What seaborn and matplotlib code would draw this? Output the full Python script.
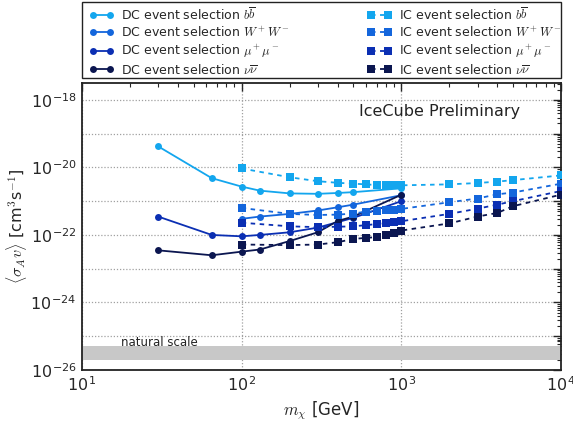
import numpy as np
import pandas as pd
import matplotlib
matplotlib.use("Agg")
import matplotlib.pyplot as plt
import matplotlib.ticker as mticker
from matplotlib.patches import Rectangle
import seaborn as sns

# ---- data ----
dc_mass = [30, 65, 100, 130, 200, 300, 400, 500, 1000]
dc_mass_ww = [100, 130, 200, 300, 400, 500, 1000]
dc_bb = [4.2e-20, 4.8e-21, 2.7e-21, 2.05e-21, 1.7e-21, 1.65e-21, 1.75e-21, 1.85e-21, 2.4e-21]
dc_ww = [3.0e-22, 3.5e-22, 4.2e-22, 5.3e-22, 6.6e-22, 7.9e-22, 1.5e-21]
dc_mumu = [3.5e-22, 1.0e-22, 9.1e-23, 1.0e-22, 1.2e-22, 1.65e-22, 2.4e-22, 3.2e-22, 1.0e-21]
dc_nunu = [3.5e-23, 2.5e-23, 3.2e-23, 3.7e-23, 6.6e-23, 1.2e-22, 2.6e-22, 3.5e-22, 1.55e-21]

ic_mass = [100, 200, 300, 400, 500, 600, 700, 800, 900, 1000, 2000, 3000, 4000, 5000, 10000]
ic_bb = [9.3e-21, 5.1e-21, 3.9e-21, 3.5e-21, 3.3e-21, 3.15e-21, 3.0e-21, 2.95e-21, 2.95e-21, 2.95e-21,
         3.15e-21, 3.45e-21, 3.8e-21, 4.2e-21, 5.8e-21]
ic_ww = [6.3e-22, 4.2e-22, 3.9e-22, 4.0e-22, 4.3e-22, 4.9e-22, 5.0e-22, 5.4e-22, 5.6e-22, 5.9e-22,
         9.3e-22, 1.2e-21, 1.6e-21, 1.8e-21, 3.3e-21]
ic_mumu = [2.3e-22, 1.8e-22, 1.7e-22, 1.75e-22, 1.8e-22, 1.95e-22, 2.1e-22, 2.3e-22, 2.45e-22, 2.55e-22,
           4.2e-22, 6.0e-22, 7.9e-22, 1.0e-21, 2.0e-21]
ic_nunu = [5.2e-23, 5.0e-23, 5.2e-23, 6.1e-23, 7.6e-23, 8.2e-23, 8.6e-23, 9.9e-23, 1.15e-22, 1.35e-22,
           2.2e-22, 3.5e-22, 4.5e-22, 7.1e-22, 1.56e-21]

channels = [r"$b\overline{b}$", r"$W^+W^-$", r"$\mu^+\mu^-$", r"$\nu\overline{\nu}$"]
colors = ["#13a6ee", "#1466dc", "#0b2fb3", "#0b1650"]

natural_lo, natural_hi = 1.95e-26, 5.0e-26

# ---- style ----
sns.set_style("white")
plt.rcParams["font.family"] = ["DejaVu Sans"]
plt.rcParams["mathtext.fontset"] = "cm"
plt.rcParams["xtick.direction"] = "in"
plt.rcParams["ytick.direction"] = "in"

W, H = 573, 421
fig = plt.figure(figsize=(W / 100, H / 100), dpi=100)
ax = fig.add_axes([82 / W, 1 - 370 / H, (561 - 82) / W, (370 - 83) / H])

ax.axhspan(natural_lo, natural_hi, color="#c8c8c8", lw=0, zorder=1)

dc_sets = [(dc_mass, dc_bb), (dc_mass_ww, dc_ww), (dc_mass, dc_mumu), (dc_mass, dc_nunu)]
ic_sets = [ic_bb, ic_ww, ic_mumu, ic_nunu]

for (m, v), ch, c in zip(dc_sets, channels, colors):
    df = pd.DataFrame({"m": m, "v": v})
    sns.lineplot(data=df, x="m", y="v", ax=ax, color=c, marker="o", markersize=5,
                 markeredgewidth=0, linewidth=1.3, label="DC event selection " + ch,
                 zorder=3, legend=False)
for v, ch, c in zip(ic_sets, channels, colors):
    df = pd.DataFrame({"m": ic_mass, "v": v})
    sns.lineplot(data=df, x="m", y="v", ax=ax, color=c, marker="s", markersize=5.5,
                 markeredgewidth=0, linewidth=1.3, linestyle=(0, (2.5, 2.5)),
                 label="IC event selection " + ch, zorder=3, legend=False)

ax.set_xscale("log")
ax.set_yscale("log")
ax.set_xlim(10, 1e4)
ax.set_ylim(1e-26, 10 ** -17.5)

ax.yaxis.set_major_locator(mticker.LogLocator(base=10, numticks=20))
ax.yaxis.set_minor_locator(mticker.LogLocator(base=10, subs=np.arange(2, 10), numticks=50))

def yfmt(val, pos):
    e = int(round(np.log10(val)))
    if e % 2 == 0:
        return r"10$^{\mathregular{%d}}$" % e
    return ""

def xfmt(val, pos):
    e = int(round(np.log10(val)))
    return r"10$^{\mathregular{%d}}$" % e

ax.yaxis.set_major_formatter(mticker.FuncFormatter(yfmt))
ax.xaxis.set_major_formatter(mticker.FuncFormatter(xfmt))
ax.yaxis.set_minor_formatter(mticker.NullFormatter())
ax.xaxis.set_minor_formatter(mticker.NullFormatter())

ax.tick_params(which="both", direction="in", top=True, right=True, labelsize=11.5, pad=4)
ax.tick_params(which="major", length=6, width=1)
ax.tick_params(which="minor", length=3, width=0.8)

ax.grid(True, which="major", color="#a0a0a0", linestyle=(0, (1, 1.5)), linewidth=0.9, zorder=0)
for s in ax.spines.values():
    s.set_color("#222222")
    s.set_linewidth(1.3)

ax.set_xlabel(r"$m_{\chi}$ [GeV]", fontsize=12, labelpad=4)
ax.set_ylabel(r"$\langle\sigma_A v\rangle$ [cm$^3$s$^{-1}$]", fontsize=11.5, labelpad=1)

ax.text(0.915, 0.9, "IceCube Preliminary", transform=ax.transAxes, ha="right", va="center",
        fontsize=11.5, color="#222222")
ax.text(17.5, 6.4e-26, "natural scale", fontsize=8.5, color="#222222", va="center", ha="left")

handles, labels = ax.get_legend_handles_labels()
leg_kw = dict(loc="upper left", ncol=1, fontsize=9, numpoints=2, handlelength=1.9,
              frameon=False, borderaxespad=0, labelspacing=0.22, borderpad=0.45,
              handletextpad=0.6)
fig.legend(handles[:4], labels[:4], bbox_to_anchor=(84 / W, 1 - 1 / H), **leg_kw)
fig.legend(handles[4:], labels[4:], bbox_to_anchor=(362 / W, 1 - 1 / H), **leg_kw)
fig.add_artist(Rectangle((82 / W, 1 - 78 / H), (561 - 82) / W, 76 / H,
                         transform=fig.transFigure, fill=False, edgecolor="#222222",
                         linewidth=1.0))

fig.savefig("out.png", dpi=100)
